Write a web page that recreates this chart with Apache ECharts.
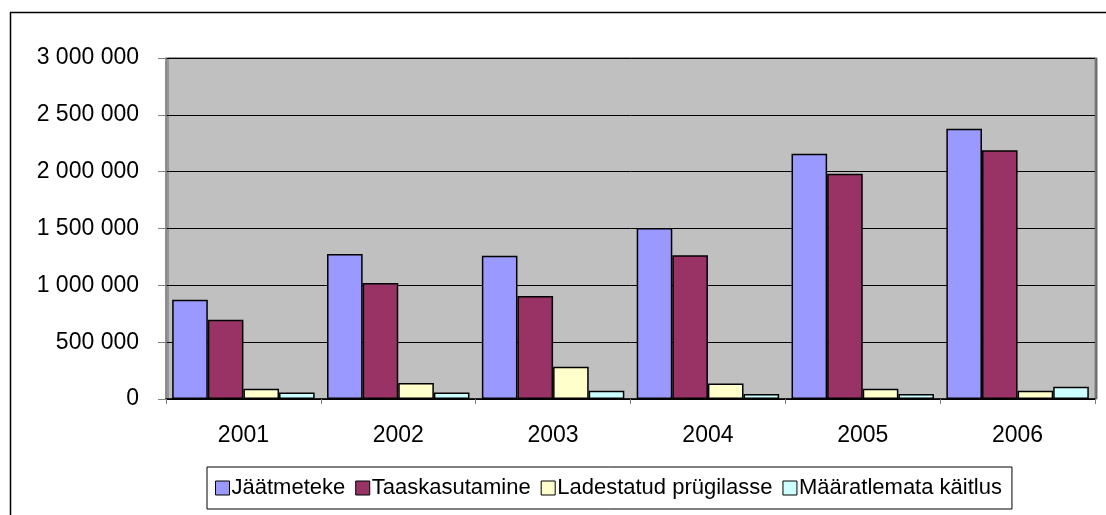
<!DOCTYPE html>
<html>
<head>
<meta charset="utf-8">
<script src="https://cdn.jsdelivr.net/npm/echarts@6/dist/echarts.min.js"></script>
<style>
  html, body { margin: 0; padding: 0; background: #fff; }
  #chart { width: 1106px; height: 515px; }
</style>
</head>
<body>
<div id="chart"></div>
<script>
// Jäätmete teke ja käitlus aastate kaupa (tonni)
const years = ['2001', '2002', '2003', '2004', '2005', '2006'];
const jaatmeteke = [874000, 1276000, 1261000, 1505000, 2157000, 2377000];
const taaskasutamine = [698000, 1021000, 907000, 1264000, 1981000, 2188000];
const ladestatud = [91000, 141000, 284000, 137000, 91000, 73000];
const maaratlemata = [58000, 58000, 73000, 44000, 44000, 108000];
const seriesNames = ['Jäätmeteke', 'Taaskasutamine', 'Ladestatud prügilasse', 'Määratlemata käitlus'];
const seriesColors = ['#9999FF', '#993366', '#FFFFCC', '#CCFFFF'];

const FONT = 'Liberation Sans';

function fmt(v) {
  return String(v).replace(/\B(?=(\d{3})+(?!\d))/g, ' ');
}

const seriesData = [jaatmeteke, taaskasutamine, ladestatud, maaratlemata];

const chart = echarts.init(document.getElementById('chart'), null, { renderer: 'canvas' });
chart.setOption({
  animation: false,
  backgroundColor: '#ffffff',
  textStyle: { fontFamily: FONT, color: '#000' },
  graphic: [{
    type: 'rect',
    left: 8, top: 10,
    shape: { width: 1200, height: 600 },
    style: { fill: 'none', stroke: '#000', lineWidth: 1.5 },
    silent: true,
    z: -10
  }],
  grid: {
    left: 166, top: 58, right: 11, bottom: 116,
    show: true,
    backgroundColor: '#C0C0C0',
    borderColor: '#808080',
    borderWidth: 1,
    shadowColor: 'rgba(100,100,100,0.9)',
    shadowOffsetX: 2,
    shadowOffsetY: 0,
    shadowBlur: 0
  },
  legend: {
    data: seriesNames,
    left: 207, top: 467,
    padding: [10, 10, 10, 8],
    borderColor: '#000',
    borderWidth: 1,
    itemWidth: 14, itemHeight: 14,
    itemGap: 10,
    icon: 'rect',
    itemStyle: { borderColor: '#000', borderWidth: 1 },
    textStyle: { fontFamily: FONT, fontSize: 22, color: '#000', padding: [0, 0, 0, -3] }
  },
  xAxis: {
    type: 'category',
    data: years,
    axisLine: { lineStyle: { color: '#000', width: 1.5 } },
    axisTick: { show: true, length: 5, lineStyle: { color: '#808080' } },
    axisLabel: { fontFamily: FONT, fontSize: 23, color: '#000', margin: 25 }
  },
  yAxis: {
    type: 'value',
    min: 0, max: 3000000, interval: 500000,
    axisLine: { show: true, lineStyle: { color: '#808080', width: 1.5 } },
    axisTick: { show: true, length: 8, lineStyle: { color: '#808080' } },
    axisLabel: { fontFamily: FONT, fontSize: 23, color: '#000', margin: 27, formatter: fmt },
    splitLine: { lineStyle: { color: '#000', width: 1 } }
  },
  series: seriesNames.map((name, i) => ({
    name: name,
    type: 'bar',
    data: seriesData[i],
    barGap: '0%',
    barCategoryGap: '8%',
    itemStyle: { color: seriesColors[i], borderColor: '#000', borderWidth: 1.5 }
  }))
});
</script>
</body>
</html>
